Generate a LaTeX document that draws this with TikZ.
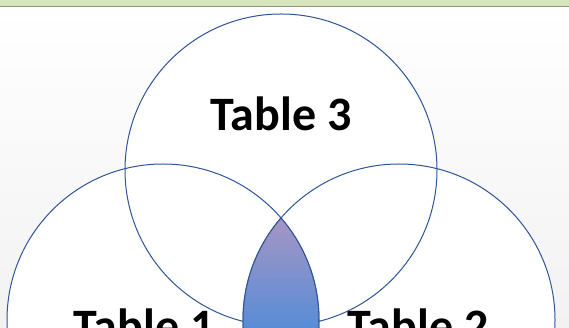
\documentclass[tikz,border=0pt]{standalone}
\usepackage{fontspec}
\setmainfont{Carlito}
\definecolor{ringblue}{RGB}{47,85,151}
\definecolor{barGreen}{RGB}{215,228,189}
\definecolor{barLine}{RGB}{140,148,130}
\definecolor{lensTop}{RGB}{166,150,196}
\definecolor{lensBot}{RGB}{88,140,214}
\definecolor{bgGray}{RGB}{242,242,242}
\tikzset{
  ring/.style={circle, minimum size=312pt, inner sep=0pt},
  ringline/.style={draw=ringblue, line width=1pt},
  label/.style={font=\bfseries\fontsize{48}{48}\selectfont, text=black, inner sep=0pt, anchor=base}
}
\begin{document}
\begin{tikzpicture}[x=1pt,y=1pt]
\useasboundingbox (0,0) rectangle (569,328);
% background
\shade[top color=white, bottom color=bgGray] (0,0) rectangle (569,321);
\fill[barGreen] (0,322) rectangle (569,328);
\fill[barLine] (0,320.7) rectangle (569,322.3);
% circles (fill first)
\node[ring, fill=white] (t3) at (281,158) {};
\node[ring, fill=white] (t1) at (163,8) {};
\node[ring, fill=white] (t2) at (399,8) {};
% labels
\node[label] (l3) at (281,197) {Table 3};
\node[label] (l1) at (144,-15) {Table 1};
\node[label] (l2) at (418,-15) {Table 2};
% outlines
\draw[ringline] (t3.center) circle[radius=156];
\draw[ringline] (t1.center) circle[radius=156];
\draw[ringline] (t2.center) circle[radius=156];
% lens (intersection of Table 1 and Table 2)
\begin{scope}
  \clip (281,110) arc[start angle=139.17, end angle=220.83, radius=156]
    arc[start angle=-40.83, end angle=40.83, radius=156] -- cycle;
  \shade[top color=lensTop, bottom color=lensBot] (240,0) rectangle (325,111);
\end{scope}
\draw[ringline]
  (281,110) arc[start angle=139.17, end angle=220.83, radius=156]
  arc[start angle=-40.83, end angle=40.83, radius=156] -- cycle;
\end{tikzpicture}
\end{document}
